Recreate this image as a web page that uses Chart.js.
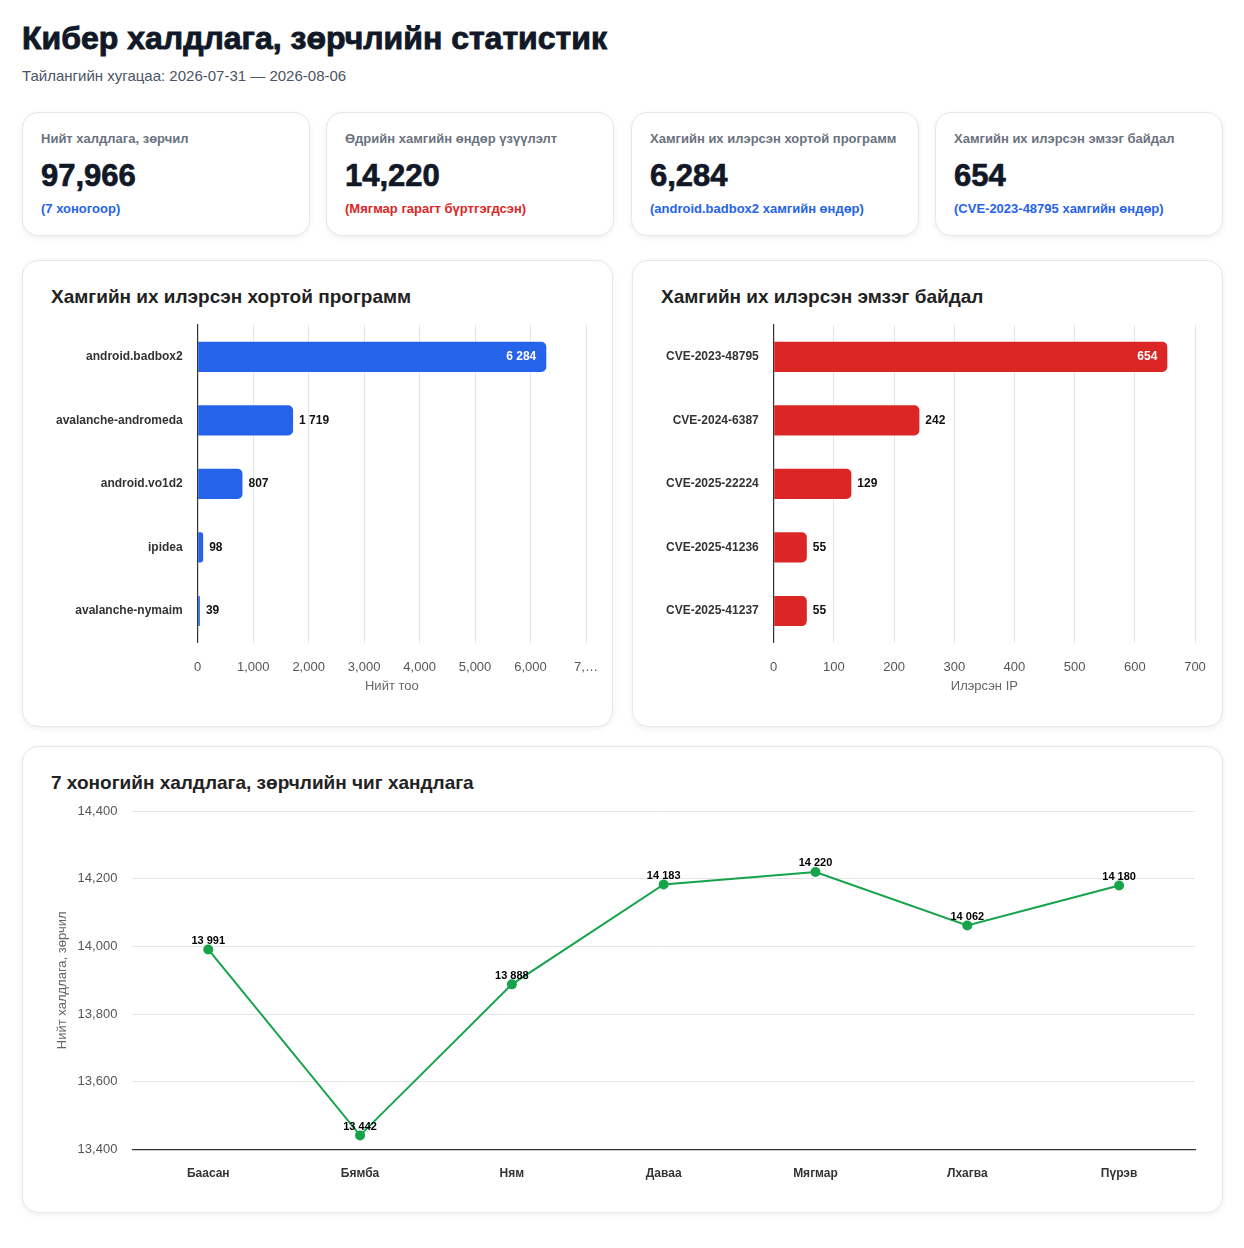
<!DOCTYPE html>
<html lang="mn">
<head>
<meta charset="utf-8">
<title>Кибер халдлага, зөрчлийн статистик</title>
<script src="https://cdn.jsdelivr.net/npm/chart.js@4.4.1/dist/chart.umd.min.js"></script>
<style>
  body {
    margin: 0;
    background: #ffffff;
    font-family: 'Liberation Sans', Arial, sans-serif;
    color: #111827;
  }
  .page { position: relative; width: 1244px; height: 1248px; }
  h1 {
    position: absolute; left: 22px; top: 19px; margin: 0;
    font-size: 32px; line-height: 38px; font-weight: 900; color: #111827;
    -webkit-text-stroke: 0.9px #111827;
  }
  .sub { position: absolute; left: 22px; top: 67px; font-size: 15px; line-height: 18px; color: #4b5563; }
  .card {
    position: absolute;
    background: #fff;
    border: 1px solid #e5e7eb;
    border-radius: 16px;
    box-shadow: 0 2px 6px rgba(0,0,0,0.06);
    box-sizing: border-box;
  }
  .kpi { top: 112px; width: 288px; height: 124px; }
  .kpi .lbl { position: absolute; left: 18px; top: 17px; font-size: 13px; font-weight: bold; color: #6b7280; line-height: 18px; }
  .kpi .val {
    position: absolute; left: 18px; top: 45px;
    font-size: 31px; font-weight: bold; line-height: 36px; color: #111827;
    -webkit-text-stroke: 0.7px #111827;
  }
  .kpi .note { position: absolute; left: 18px; top: 87px; font-size: 13px; font-weight: bold; line-height: 18px; }
  .blue { color: #2563eb; }
  .red { color: #dc2626; }
  .chartcard { top: 260px; width: 591px; height: 467px; }
  .wide { left: 22px; top: 746px; width: 1201px; height: 467px; }
  .card h2 {
    position: absolute; left: 28px; top: 23px; margin: 0;
    font-size: 19px; line-height: 26px; font-weight: bold; color: #222;
  }
  .box { position: absolute; }
  .chartcard .box { left: 27px; top: 52px; width: 551px; height: 390px; }
  .wide .box { left: 27px; top: 51px; width: 1147px; height: 394px; }
</style>
</head>
<body>
<div class="page">
  <h1>Кибер халдлага, зөрчлийн статистик</h1>
  <div class="sub">Тайлангийн хугацаа: 2026-07-31 — 2026-08-06</div>

  <div class="card kpi" style="left:22px">
    <div class="lbl">Нийт халдлага, зөрчил</div>
    <div class="val">97,966</div>
    <div class="note blue">(7 хоногоор)</div>
  </div>
  <div class="card kpi" style="left:326px">
    <div class="lbl">Өдрийн хамгийн өндөр үзүүлэлт</div>
    <div class="val">14,220</div>
    <div class="note red">(Мягмар гарагт бүртгэгдсэн)</div>
  </div>
  <div class="card kpi" style="left:631px">
    <div class="lbl">Хамгийн их илэрсэн хортой программ</div>
    <div class="val">6,284</div>
    <div class="note blue">(android.badbox2 хамгийн өндөр)</div>
  </div>
  <div class="card kpi" style="left:935px">
    <div class="lbl">Хамгийн их илэрсэн эмзэг байдал</div>
    <div class="val">654</div>
    <div class="note blue">(CVE-2023-48795 хамгийн өндөр)</div>
  </div>

  <div class="card chartcard" style="left:22px">
    <h2>Хамгийн их илэрсэн хортой программ</h2>
    <div class="box"><canvas id="malwareChart"></canvas></div>
  </div>
  <div class="card chartcard" style="left:632px">
    <h2>Хамгийн их илэрсэн эмзэг байдал</h2>
    <div class="box"><canvas id="cveChart"></canvas></div>
  </div>

  <div class="card wide">
    <h2>7 хоногийн халдлага, зөрчлийн чиг хандлага</h2>
    <div class="box"><canvas id="trendChart"></canvas></div>
  </div>
</div>

<script>
// Хортой программууд
var malwareNames = ['android.badbox2', 'avalanche-andromeda', 'android.vo1d2', 'ipidea', 'avalanche-nymaim'];
var malwareCounts = [6284, 1719, 807, 98, 39];

// Эмзэг байдлууд
var cveNames = ['CVE-2023-48795', 'CVE-2024-6387', 'CVE-2025-22224', 'CVE-2025-41236', 'CVE-2025-41237'];
var cveCounts = [654, 242, 129, 55, 55];

// 7 хоногийн өдрүүд
var dayNames = ['Баасан', 'Бямба', 'Ням', 'Даваа', 'Мягмар', 'Лхагва', 'Пүрэв'];
var dayTotals = [13991, 13442, 13888, 14183, 14220, 14062, 14180];

// Тэнхлэгийн хязгаар
var malwareAxis = { max: 7000, step: 1000 };
var cveAxis = { max: 700, step: 100 };
var trendAxis = { min: 13400, max: 14400, step: 200 };

Chart.defaults.font.family = "'Liberation Sans', Arial, sans-serif";
Chart.defaults.color = '#555';

// Зайгаар тусгаарласан тоо
function spaced(n) {
    return String(n).replace(/\B(?=(\d{3})+(?!\d))/g, ' ');
}
function commas(n) {
    return Number(n).toLocaleString('en-US');
}

// Баганын утгыг зурах
var barLabels = {
    id: 'barLabels',
    afterDatasetsDraw: function(chart) {
        var ctx = chart.ctx;
        var ds = chart.data.datasets[0];
        var meta = chart.getDatasetMeta(0);
        var top = Math.max.apply(null, ds.data);
        ctx.save();
        ctx.font = 'bold 12px ' + Chart.defaults.font.family;
        ctx.textBaseline = 'middle';
        meta.data.forEach(function(bar, i) {
            var v = ds.data[i];
            if (v === top) {
                ctx.fillStyle = '#ffffff';
                ctx.textAlign = 'right';
                ctx.fillText(spaced(v), bar.x - 10, bar.y);
            } else {
                ctx.fillStyle = '#111';
                ctx.textAlign = 'left';
                ctx.fillText(spaced(v), bar.x + 6, bar.y);
            }
        });
        ctx.restore();
    }
};

// Цэгийн утгыг зурах
var pointLabels = {
    id: 'pointLabels',
    afterDatasetsDraw: function(chart) {
        var ctx = chart.ctx;
        var ds = chart.data.datasets[0];
        var meta = chart.getDatasetMeta(0);
        ctx.save();
        ctx.font = 'bold 11px ' + Chart.defaults.font.family;
        ctx.fillStyle = '#000';
        ctx.textAlign = 'center';
        ctx.textBaseline = 'bottom';
        meta.data.forEach(function(pt, i) {
            ctx.fillText(spaced(ds.data[i]), pt.x, pt.y - 3);
        });
        ctx.restore();
    }
};

function barChart(id, names, counts, color, axis, title, cutLast, padRight) {
    var ctx = document.getElementById(id).getContext('2d');
    return new Chart(ctx, {
        type: 'bar',
        data: {
            labels: names,
            datasets: [{
                data: counts,
                backgroundColor: color,
                borderRadius: 5,
                barPercentage: 0.5,
                categoryPercentage: 0.95
            }]
        },
        options: {
            indexAxis: 'y',
            responsive: true,
            maintainAspectRatio: false,
            animation: false,
            layout: { autoPadding: false, padding: { top: 12, left: 5, right: padRight, bottom: 9 } },
            plugins: { legend: { display: false }, tooltip: { enabled: false } },
            scales: {
                x: {
                    min: 0,
                    max: axis.max,
                    ticks: {
                        stepSize: axis.step,
                        padding: 1,
                        color: '#555',
                        font: { size: 13 },
                        maxRotation: 0,
                        callback: function(v, i, ticks) {
                            var s = commas(v);
                            if (cutLast && i === ticks.length - 1) return s.slice(0, 2) + '…';
                            return s;
                        }
                    },
                    grid: { color: '#e5e5e5', drawTicks: true, tickLength: 16, tickColor: 'transparent' },
                    border: { display: false },
                    title: { display: true, text: title, color: '#666', font: { size: 13 }, padding: { top: 2, bottom: 0 } }
                },
                y: {
                    ticks: { color: '#333', font: { size: 12, weight: 'bold' }, padding: 1 },
                    grid: { color: 'transparent', drawTicks: true, tickLength: 14 },
                    border: { display: true, color: '#333', width: 1.2 }
                }
            }
        },
        plugins: [barLabels]
    });
}

barChart('malwareChart', malwareNames, malwareCounts, '#2563eb', malwareAxis, 'Нийт тоо', true, 15);
barChart('cveChart', cveNames, cveCounts, '#dc2626', cveAxis, 'Илэрсэн IP', false, 16);

// Чиг хандлагын график
new Chart(document.getElementById('trendChart').getContext('2d'), {
    type: 'line',
    data: {
        labels: dayNames,
        datasets: [{
            data: dayTotals,
            borderColor: '#16a34a',
            backgroundColor: '#16a34a',
            borderWidth: 2,
            pointRadius: 5,
            pointBackgroundColor: '#16a34a',
            pointBorderWidth: 0,
            tension: 0,
            clip: false
        }]
    },
    options: {
        responsive: true,
        maintainAspectRatio: false,
        animation: false,
        layout: { autoPadding: false, padding: { top: 13, left: 1, right: 2, bottom: 10 } },
        plugins: { legend: { display: false }, tooltip: { enabled: false } },
        scales: {
            x: {
                offset: true,
                ticks: { color: '#333', font: { size: 12, weight: 'bold' }, padding: 1 },
                grid: { color: 'transparent', drawTicks: true, tickLength: 16 },
                border: { display: true, color: '#333', width: 1.2 }
            },
            y: {
                min: trendAxis.min,
                max: trendAxis.max,
                ticks: {
                    stepSize: trendAxis.step,
                    padding: 1,
                    color: '#555',
                    font: { size: 13 },
                    callback: function(v) { return commas(v); }
                },
                grid: { color: '#e5e5e5', drawTicks: true, tickLength: 14, tickColor: 'transparent' },
                border: { display: false },
                title: { display: true, text: 'Нийт халдлага, зөрчил', color: '#666', font: { size: 13 }, padding: { bottom: 6 } }
            }
        }
    },
    plugins: [pointLabels]
});
</script>
</body>
</html>
